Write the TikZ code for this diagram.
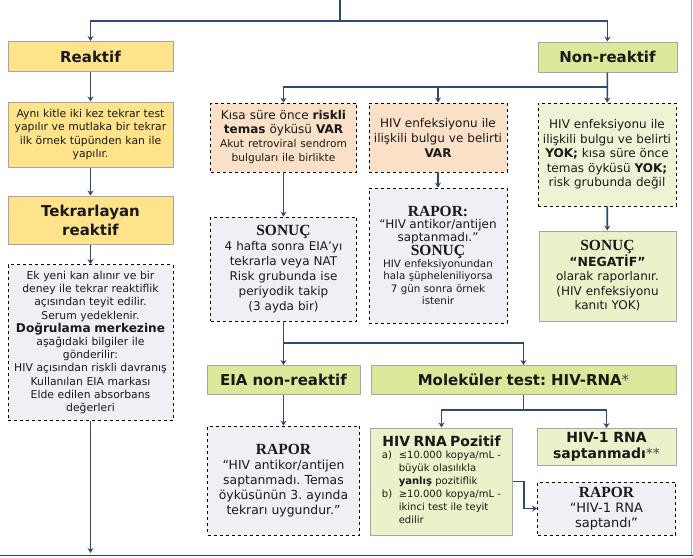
\documentclass[tikz,border=0pt]{standalone}
\usepackage{fontspec}
\setmainfont{DejaVu Sans}
\newfontfamily\serifyazi{Liberation Serif}
\usetikzlibrary{arrows.meta,positioning,calc}
\frenchspacing

\definecolor{akis}{HTML}{2E4A6F}
\definecolor{kenar}{HTML}{A6A6A6}
\definecolor{sari}{HTML}{FFE38B}
\definecolor{yesil}{HTML}{DCE89A}
\definecolor{acikyesil}{HTML}{EBF1C8}
\definecolor{soluk}{HTML}{EEF3D6}
\definecolor{seftali}{HTML}{FBE0C8}
\definecolor{lila}{HTML}{F1EFF5}

\newcommand{\baslik}{\fontsize{15}{19}\selectfont\bfseries}
\newcommand{\govde}{\fontsize{12}{14.5}\selectfont}
\newcommand{\ufak}{\fontsize{10.8}{13.2}\selectfont}
\newcommand{\rapyazi}{\fontsize{15.5}{16}\selectfont\serifyazi\bfseries}

\tikzset{
  kutu/.style={draw=kenar, line width=1pt, align=center, inner sep=2pt, text=black!90},
  kesik/.style={draw=black, line width=0.8pt, dashed, align=center, inner sep=2pt, text=black!90},
  ok/.style={draw=akis, line width=1.6pt, -{Stealth[length=5pt,width=6pt]}},
  cizgi/.style={draw=akis, line width=1.6pt}
}

\begin{document}
\begin{tikzpicture}[x=1pt,y=-1pt]
    \useasboundingbox (0,0) rectangle (693,557);
    \draw[kenar, line width=1pt] (691.5,0) -- (691.5,555);
    \draw[black!75, line width=1.5pt] (0,555.5) -- (693,555.5);

    % sol kol
    \node[kutu, fill=sari, text width=161, minimum height=30, font=\baslik] (reaktif) at (90.5,56.5) {Reaktif};
    \node[kutu, fill=sari, text width=161, minimum height=65, font=\ufak] (ayni) at (90.5,134.5)
        {Aynı kitle iki kez tekrar test\\ yapılır ve mutlaka bir tekrar\\ ilk örnek tüpünden kan ile\\ yapılır.};
    \node[kutu, fill=sari, text width=161, minimum height=48, font=\baslik] (tekrar) at (90.5,220)
        {Tekrarlayan\\ reaktif};
    \node[kesik, fill=lila, text width=161, minimum height=156, font=\ufak] (ekyeni) at (90.5,342.5)
        {Ek yeni kan alınır ve bir\\ deney ile tekrar reaktiflik\\ açısından teyit edilir.\\ Serum yedeklenir.\\
         {\fontsize{12.1}{14}\selectfont\bfseries Doğrulama merkezine}\\ aşağıdaki bilgiler ile\\ gönderilir:\\
         HIV açısından riskli davranış\\ Kullanılan EIA markası\\ Elde edilen absorbans\\ değerleri};
    \coordinate (alt) at (90.5,553);

    % sag kol
    \node[kutu, fill=yesil, text width=135, minimum height=30, font=\baslik] (nonreak) at (607.5,57) {Non-reaktif};
    \node[kesik, fill=seftali, text width=142, minimum height=69, font=\fontsize{12}{14}\selectfont] (kisa) at (283.5,137.5)
        {Kısa süre önce \textbf{riskli}\\ \textbf{temas} öyküsü \textbf{VAR}\\
         {\fontsize{10.6}{12.8}\selectfont Akut retroviral sendrom}\\ {\fontsize{10.6}{12.8}\selectfont bulguları ile birlikte}};
    \node[kesik, fill=seftali, text width=134, minimum height=69, font=\fontsize{12}{15}\selectfont] (hivvar) at (438,137.5)
        {HIV enfeksiyonu ile\\ ilişkili bulgu ve belirti\\ \textbf{VAR}};
    \node[kesik, fill=soluk, text width=134, minimum height=103, font=\govde] (hivyok) at (607,154.5)
        {HIV enfeksiyonu ile\\ ilişkili bulgu ve belirti\\ \textbf{YOK;} kısa süre önce\\ temas öyküsü \textbf{YOK;}\\ risk grubunda değil};

    \node[kesik, fill=lila, text width=142, minimum height=104, font=\fontsize{12}{15}\selectfont] (sonuc) at (283.5,269)
        {{\rapyazi SONUÇ}\\ 4 hafta sonra EIA’yı\\ tekrarla veya NAT\\ Risk grubunda ise\\ periyodik takip\\ (3 ayda bir)};
    \node[kesik, fill=lila, text width=134, minimum height=135, font=\fontsize{10.3}{12.4}\selectfont] (rapor) at (438,255.5)
        {{\rapyazi RAPOR:}\\ {\fontsize{12}{14}\selectfont “HIV antikor/antijen}\\ {\fontsize{12}{14}\selectfont saptanmadı.”}\\
         {\rapyazi SONUÇ}\\ HIV enfeksiyonundan\\ hala şüpheleniliyorsa\\ 7 gün sonra örnek\\ istenir};
    \node[kutu, fill=acikyesil, text width=133, minimum height=90, font=\govde] (negatif) at (607.5,276)
        {{\rapyazi SONUÇ}\\ {\fontsize{12.5}{14.5}\selectfont\bfseries “NEGATİF”}\\ olarak raporlanır.\\ (HIV enfeksiyonu\\ kanıtı YOK)};

    % alt bolum
    \node[kutu, fill=yesil, text width=149, minimum height=29, font=\baslik] (eianon) at (283.5,380) {EIA non-reaktif};
    \node[kutu, fill=yesil, text width=301, minimum height=29, font=\baslik] (molek) at (523.5,380)
        {Moleküler test: HIV-RNA{\mdseries\color{black!70}*}};
    \node[kesik, fill=lila, text width=148, minimum height=109, font=\fontsize{12.4}{15}\selectfont] (rapor2) at (283.5,480.5)
        {{\rapyazi RAPOR}\\ “HIV antikor/antijen\\ saptanmadı. Temas\\ öyküsünün 3. ayında\\ tekrarı uygundur.”};
    \node[kutu, fill=acikyesil, text width=138, minimum height=107, font=\fontsize{10}{13}\selectfont] (rnapoz) at (441.5,481.5)
        {{\fontsize{14}{16}\selectfont\bfseries HIV RNA Pozitif}\\[1pt]
         \begin{tabular}{@{}l@{\ \ }l@{}}
         a) & ≤10.000 kopya/mL -\\ & büyük olasılıkla\\ & \textbf{yanlış} pozitiflik\\
         b) & ≥10.000 kopya/mL -\\ & ikinci test ile teyit\\ & edilir
         \end{tabular}};
    \node[kutu, fill=acikyesil, text width=135, minimum height=37, font=\fontsize{14}{16}\selectfont\bfseries] (rnayok) at (606.5,447)
        {HIV-1 RNA\\ saptanmadı{\mdseries\color{black!70}**}};
    \node[kesik, fill=lila, text width=134, minimum height=53, font=\fontsize{13}{15}\selectfont] (rapor3) at (606.5,508.5)
        {{\rapyazi RAPOR}\\ “HIV-1 RNA\\ saptandı”};

    % baglantilar
    \coordinate (tepe) at (340,0);
    \coordinate (ayrim1) at (340,21);
    \coordinate (ayrim2) at (607.5,87);
    \coordinate (ayrim3) at (283.5,343);
    \coordinate (ayrim4) at (523.5,410);
    \draw[ok] (tepe) -- (ayrim1) -| (reaktif);
    \draw[ok] (ayrim1) -| (nonreak);
    \draw[ok] (reaktif) -- (ayni);
    \draw[ok] (ayni) -- (tekrar);
    \draw[ok] (tekrar) -- (ekyeni);
    \draw[ok] (ekyeni) -- (alt);
    \draw[ok] (nonreak) -- (hivyok);
    \draw[ok] (ayrim2) -| (kisa);
    \draw[ok] (ayrim2) -| (hivvar);
    \draw[ok] (kisa) -- (sonuc);
    \draw[ok] (hivvar) -- (rapor);
    \draw[ok] (hivyok) -- (negatif);
    \draw[ok] (sonuc) -- (eianon);
    \draw[ok] (ayrim3) -| (molek);
    \draw[ok] (eianon) -- (rapor2);
    \draw[cizgi] (molek) -- (ayrim4);
    \draw[ok] (ayrim4) -| (rnapoz);
    \draw[ok] (ayrim4) -| (rnayok);
    \draw[ok] (rnapoz.east) -- ++(11,0) |- (rapor3.west);
\end{tikzpicture}
\end{document}
